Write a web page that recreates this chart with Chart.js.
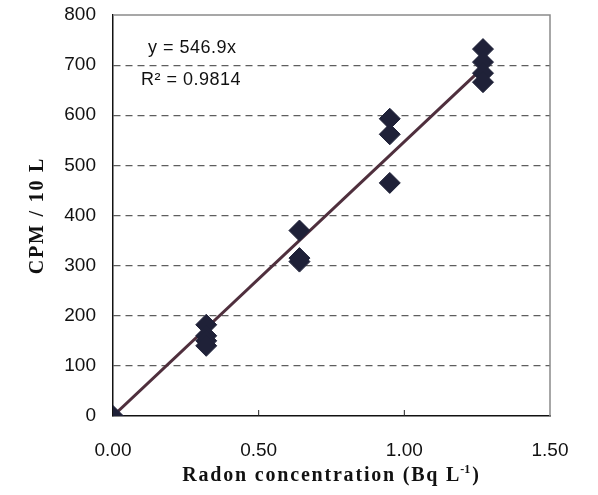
<!DOCTYPE html>
<html>
<head>
<meta charset="utf-8">
<script src="https://cdn.jsdelivr.net/npm/chart.js@4.4.0/dist/chart.umd.min.js"></script>
<style>
  html, body { margin: 0; padding: 0; background: #fff; }
  #wrap { width: 598px; height: 495px; }
</style>
</head>
<body>
<div id="wrap"><canvas id="chartRadon"></canvas></div>
<script>
// measured points (Radon concentration, CPM / 10 L)
const radonConc = [0.00, 0.32, 0.32, 0.32, 0.32, 0.64, 0.64, 0.64, 0.95, 0.95, 0.95, 1.27, 1.27, 1.27, 1.27];
const cpmValues = [0, 182, 160, 150, 140, 370, 315, 308, 593, 562, 465, 732, 706, 684, 666];

// trend line ends (y = 546.9x)
const trendX = [0.00, 1.27];
const trendY = [0, 695];

const xTicks = [0, 0.5, 1.0, 1.5];
const yTicks = [0, 100, 200, 300, 400, 500, 600, 700, 800];

// x title is split so the exponent can be drawn raised and small
const xTitleParts = ['Radon concentration (Bq L', '-1', ')'];
const yTitle = 'CPM / 10 L';
const equationText = 'y = 546.9x';
const r2Text = 'R\u00B2 = 0.9814';

let scatterPoints = radonConc.map((x, i) => ({ x: x, y: cpmValues[i] }));
let trendPoints = trendX.map((x, i) => ({ x: x, y: trendY[i] }));

const titleFont = 'bold 20px "Liberation Serif", "Times New Roman", serif';
const supFont = 'bold 12px "Liberation Serif", "Times New Roman", serif';

// gray frame on top/right, little inner ticks, axis titles, equation text
let extras = {
    id: 'extras',
    beforeDatasetsDraw(chart) {
        let ctx = chart.ctx;
        let a = chart.chartArea;
        let xs = chart.scales.x;
        ctx.save();
        ctx.strokeStyle = '#8a8a8a';
        ctx.lineWidth = 1.5;
        ctx.beginPath();
        ctx.moveTo(a.left, a.top);
        ctx.lineTo(a.right, a.top);
        ctx.lineTo(a.right, a.bottom);
        ctx.stroke();
        ctx.strokeStyle = '#222';
        ctx.lineWidth = 1;
        [0.5, 1.0].forEach(v => {
            let px = xs.getPixelForValue(v);
            ctx.beginPath();
            ctx.moveTo(px, a.bottom);
            ctx.lineTo(px, a.bottom - 6);
            ctx.stroke();
        });
        ctx.restore();
    },
    afterDraw(chart) {
        let ctx = chart.ctx;
        let a = chart.chartArea;
        ctx.save();
        ctx.fillStyle = '#111';
        ctx.font = '18px "Liberation Sans", Arial, sans-serif';
        ctx.textBaseline = 'middle';
        ctx.letterSpacing = '0.5px';
        ctx.fillText(equationText, a.left + 35, a.top + 33);
        ctx.fillText(r2Text, a.left + 28, a.top + 65);

        // x title
        ctx.textBaseline = 'alphabetic';
        ctx.letterSpacing = '1.8px';
        ctx.font = titleFont;
        let w0 = ctx.measureText(xTitleParts[0]).width;
        let w2 = ctx.measureText(xTitleParts[2]).width;
        ctx.font = supFont;
        ctx.letterSpacing = '0px';
        let w1 = ctx.measureText(xTitleParts[1]).width + 1;
        let startX = (a.left + a.right) / 2 - (w0 + w1 + w2) / 2;
        let baseY = 481;
        ctx.font = titleFont;
        ctx.letterSpacing = '1.8px';
        ctx.fillText(xTitleParts[0], startX, baseY);
        ctx.font = supFont;
        ctx.letterSpacing = '0px';
        ctx.fillText(xTitleParts[1], startX + w0 - 1, baseY - 8);
        ctx.font = titleFont;
        ctx.letterSpacing = '1.8px';
        ctx.fillText(xTitleParts[2], startX + w0 + w1, baseY);

        // y title
        ctx.textAlign = 'center';
        ctx.textBaseline = 'middle';
        ctx.translate(38, (a.top + a.bottom) / 2);
        ctx.rotate(-Math.PI / 2);
        ctx.fillText(yTitle, 0, 0);
        ctx.restore();
    }
};

let config = {
    type: 'scatter',
    data: {
        datasets: [{
            label: 'trend',
            type: 'line',
            data: trendPoints,
            borderColor: '#4f2f3d',
            borderWidth: 3,
            pointRadius: 0,
            fill: false,
            order: 2
        }, {
            label: 'CPM',
            data: scatterPoints,
            pointStyle: 'rectRot',
            pointRadius: 10.5,
            backgroundColor: '#1f2138',
            borderColor: '#1f2138',
            borderWidth: 1,
            order: 1
        }]
    },
    plugins: [extras],
    options: {
        responsive: true,
        maintainAspectRatio: false,
        animation: false,
        layout: {
            padding: { top: 15, right: 48, left: 0, bottom: 0 }
        },
        plugins: {
            legend: { display: false },
            tooltip: { enabled: false }
        },
        scales: {
            x: {
                type: 'linear',
                min: 0,
                max: 1.5,
                afterBuildTicks: s => { s.ticks = xTicks.map(v => ({ value: v })); },
                afterFit: s => { s.height = 79; s.paddingLeft = 0; s.paddingRight = 0; },
                grid: { display: false, drawTicks: false },
                border: { color: '#111', width: 1.5 },
                ticks: {
                    padding: 23,
                    color: '#111',
                    font: { family: '"Liberation Sans", Arial, sans-serif', size: 19 },
                    callback: v => v.toFixed(2)
                }
            },
            y: {
                min: 0,
                max: 800,
                afterBuildTicks: s => { s.ticks = yTicks.map(v => ({ value: v })); },
                afterFit: s => { s.width = 113; s.paddingTop = 0; s.paddingBottom = 0; },
                grid: {
                    drawTicks: false,
                    color: c => (c.tick.value === 0 || c.tick.value === 800) ? 'rgba(0,0,0,0)' : '#5e5e5e',
                    lineWidth: 1.2
                },
                border: { color: '#111', width: 1.5, dash: [7, 5] },
                ticks: {
                    padding: 17,
                    color: '#111',
                    font: { family: '"Liberation Sans", Arial, sans-serif', size: 19 }
                }
            }
        }
    }
};

let chartRadon = new Chart(document.querySelector('#chartRadon').getContext('2d'), config);
</script>
</body>
</html>
